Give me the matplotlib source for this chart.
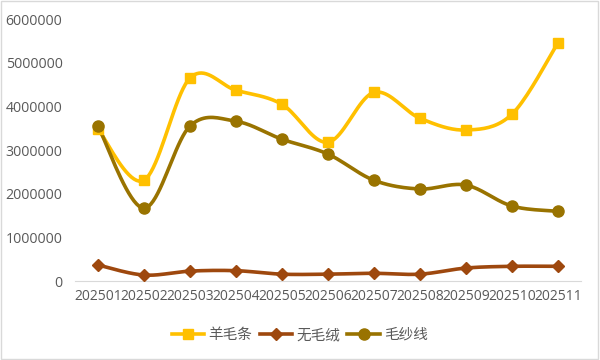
import numpy as np
import matplotlib.pyplot as plt
from matplotlib.patches import Rectangle
from matplotlib.lines import Line2D

plt.rcParams['font.family'] = ['Open Sans', 'Noto Sans CJK SC', 'DejaVu Sans']

months = ["202501", "202502", "202503", "202504", "202505", "202506",
          "202507", "202508", "202509", "202510", "202511"]
wool_top = [3480000, 2310000, 4650000, 4370000, 4050000, 3180000,
            4320000, 3730000, 3460000, 3820000, 5450000]
dehaired = [370000, 140000, 230000, 240000, 160000, 160000,
            180000, 160000, 300000, 340000, 340000]
yarn = [3550000, 1670000, 3550000, 3660000, 3250000, 2910000,
        2310000, 2110000, 2200000, 1720000, 1600000]

series = [("羊毛条", wool_top, "#FFC000", "s", 7),
          ("无毛绒", dehaired, "#9E480E", "D", 6),
          ("毛纱线", yarn, "#997300", "o", 8)]


def smooth(x, y, n=20):
    # Catmull-Rom curve through the points, like Excel's smoothed line
    x = np.asarray(x, float)
    y = np.asarray(y, float)
    px = np.concatenate([[x[0]], x, [x[-1]]])
    py = np.concatenate([[y[0]], y, [y[-1]]])
    xs, ys = [], []
    t = np.linspace(0, 1, n, endpoint=False)
    for i in range(1, len(px) - 2):
        for p, out in ((px, xs), (py, ys)):
            p0, p1, p2, p3 = p[i - 1], p[i], p[i + 1], p[i + 2]
            c1 = p1 + (p2 - p0) / 6
            c2 = p2 - (p3 - p1) / 6
            out.extend((1 - t) ** 3 * p1 + 3 * (1 - t) ** 2 * t * c1
                       + 3 * (1 - t) * t ** 2 * c2 + t ** 3 * p2)
    xs.append(x[-1])
    ys.append(y[-1])
    return np.array(xs), np.array(ys)


fig = plt.figure(figsize=(6, 3.6), dpi=100)
ax = fig.add_axes([0.125, 0.219, 0.843, 0.728])
fig.patches.append(Rectangle((0.002, 0.003), 0.995, 0.993, transform=fig.transFigure,
                             fill=False, edgecolor="#D9D9D9", lw=1))

x = np.arange(len(months))
handles = []
for name, vals, col, mk, ms in series:
    sx, sy = smooth(x, vals)
    ax.plot(sx, sy, color=col, lw=2.6, solid_capstyle="round", zorder=2)
    ax.plot(x, vals, ls="none", marker=mk, ms=ms, color=col, zorder=3)
    handles.append(Line2D([], [], color=col, lw=2.6, marker=mk, ms=ms, label=name))

ax.set_xlim(-0.5, len(months) - 0.5)
ax.set_ylim(0, 6000000)
ax.set_yticks(np.arange(0, 6000001, 1000000))
ax.set_yticklabels([str(v) for v in range(0, 6000001, 1000000)])
ax.set_xticks(x)
ax.set_xticklabels(months)
ax.tick_params(length=0, labelsize=10.2, colors="#595959", pad=6)
ax.tick_params(axis="x", labelsize=10)
ax.tick_params(axis="y", pad=9)
for s in ["top", "right", "left"]:
    ax.spines[s].set_visible(False)
ax.spines["bottom"].set_color("#D9D9D9")

fig.legend(handles=handles, loc="center", bbox_to_anchor=(0.5, 0.07), ncol=3,
           frameon=False, labelcolor="#595959", handlelength=2.2,
           handletextpad=0.3, columnspacing=0.5,
           prop={"family": ["Noto Sans CJK SC", "DejaVu Sans"], "size": 10.5})

fig.savefig("out.png", dpi=100)
